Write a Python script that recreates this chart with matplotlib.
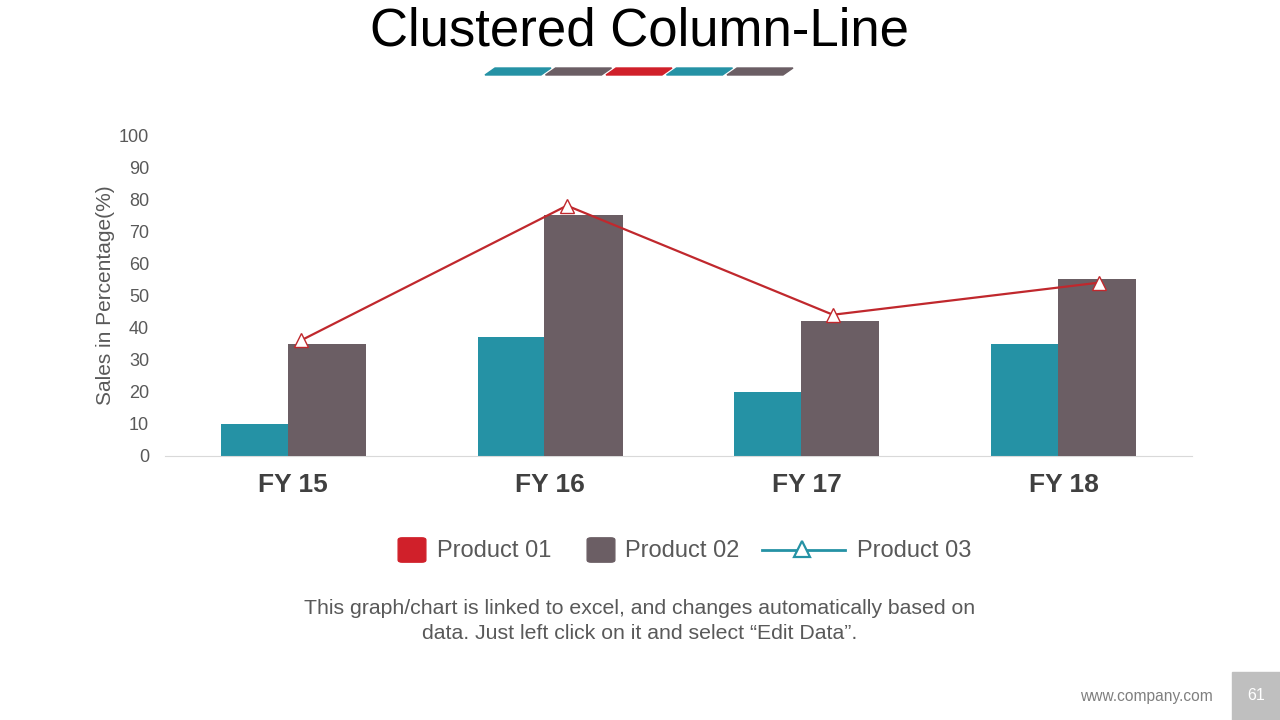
import matplotlib.pyplot as plt
from matplotlib.patches import Polygon, Rectangle, FancyBboxPatch
from matplotlib.lines import Line2D
import numpy as np

plt.rcParams['font.family'] = ['Liberation Sans', 'DejaVu Sans']

# Daten
kategorien = ['FY 15', 'FY 16', 'FY 17', 'FY 18']
produkt01 = [10, 37, 20, 35]
produkt02 = [35, 75, 42, 55]
produkt03 = [36, 78, 44, 54]
serien = ['Product 01', 'Product 02', 'Product 03']

teal = '#2592A5'
grau = '#6B5E64'
rot = '#D0202A'
linienrot = '#C0282D'
textgrau = '#595959'

fig = plt.figure(figsize=(12.8, 7.2), dpi=100)
W, H = 1280, 720

def fx(px):
    return px / W

def fy(py):
    return 1 - py / H

# Achsen: 0 bei y=456, 100 bei y=135, x von 165 bis 1192
ax = fig.add_axes([fx(165), fy(456), fx(1192) - fx(165), (456 - 135) / H])
x = np.arange(len(kategorien))
breite = 0.304
ax.bar(x - 0.13, produkt01, breite, color=teal, zorder=2)
ax.bar(x + 0.13, produkt02, breite, color=grau, zorder=3)
ax.set_xlim(-0.5, 3.5)
ax.set_ylim(0, 100)
ax.set_yticks(range(0, 101, 10))
ax.tick_params(axis='y', length=0, labelsize=13, labelcolor=textgrau, pad=11.5)
ax.set_xticks(x)
ax.set_xticklabels(kategorien, fontsize=19, fontweight='bold', color='#404040')
ax.tick_params(axis='x', length=0, pad=12)
for s in ['top', 'right', 'left']:
    ax.spines[s].set_visible(False)
ax.spines['bottom'].set_color('#D9D9D9')
ax.set_ylabel('Sales in Percentage(%)', fontsize=15, color=textgrau, labelpad=3)

# Linie auf sekundärer Kategorienachse
ax2 = ax.twiny()
ax2.set_xlim(-0.511, 3.35)
ax2.plot(x, produkt03, color=linienrot, lw=1.6, marker='^', markersize=10,
         markerfacecolor='white', markeredgecolor=linienrot, markeredgewidth=1, zorder=5)
ax2.set_xticks([])
for s in ax2.spines.values():
    s.set_visible(False)

# Titel
fig.text(0.5, fy(31), 'Clustered Column-Line', ha='center', va='center',
         fontsize=38, color='black')

# Streifen unter dem Titel
farben = [teal, grau, rot, teal, grau]
for i, c in enumerate(farben):
    bx = 485 + 60.5 * i
    pts = [(fx(bx), fy(75)), (fx(bx + 56), fy(75)), (fx(bx + 66), fy(68)), (fx(bx + 10), fy(68))]
    fig.patches.append(Polygon(pts, closed=True, color=c, transform=fig.transFigure))

# Legende (von Hand)
for px, c in [(399, rot), (588, grau)]:
    fig.patches.append(FancyBboxPatch((fx(px + 3), fy(560)), fx(20), 20 / H,
                                      boxstyle='round,pad=0.003', color=c,
                                      transform=fig.transFigure))
fig.lines.append(Line2D([fx(762), fx(845)], [fy(550), fy(550)], color=teal, lw=2,
                        transform=fig.transFigure))
fig.lines.append(Line2D([fx(802)], [fy(549)], marker='^', markersize=12, color=teal,
                        markerfacecolor='white', markeredgewidth=1.6,
                        transform=fig.transFigure))
for px, name in zip([437, 625, 857], serien):
    fig.text(fx(px), fy(551), name, ha='left', va='center', fontsize=17, color=textgrau)

fig.text(0.5, fy(621), 'This graph/chart is linked to excel, and changes automatically based on\n'
         'data. Just left click on it and select \u201cEdit Data\u201d.', ha='center', va='center',
         fontsize=15.3, color=textgrau, linespacing=1.38)

# Fußzeile
fig.text(fx(1146), fy(697), 'www.company.com', ha='center', va='center', fontsize=11.2, color='#7F7F7F')
fig.patches.append(Rectangle((fx(1232), 0), fx(48), 48 / H, color='#BFBFBF', transform=fig.transFigure))
fig.text(fx(1256), fy(696), '61', ha='center', va='center', fontsize=11.5, color='white')

fig.savefig('out.png', dpi=100)
